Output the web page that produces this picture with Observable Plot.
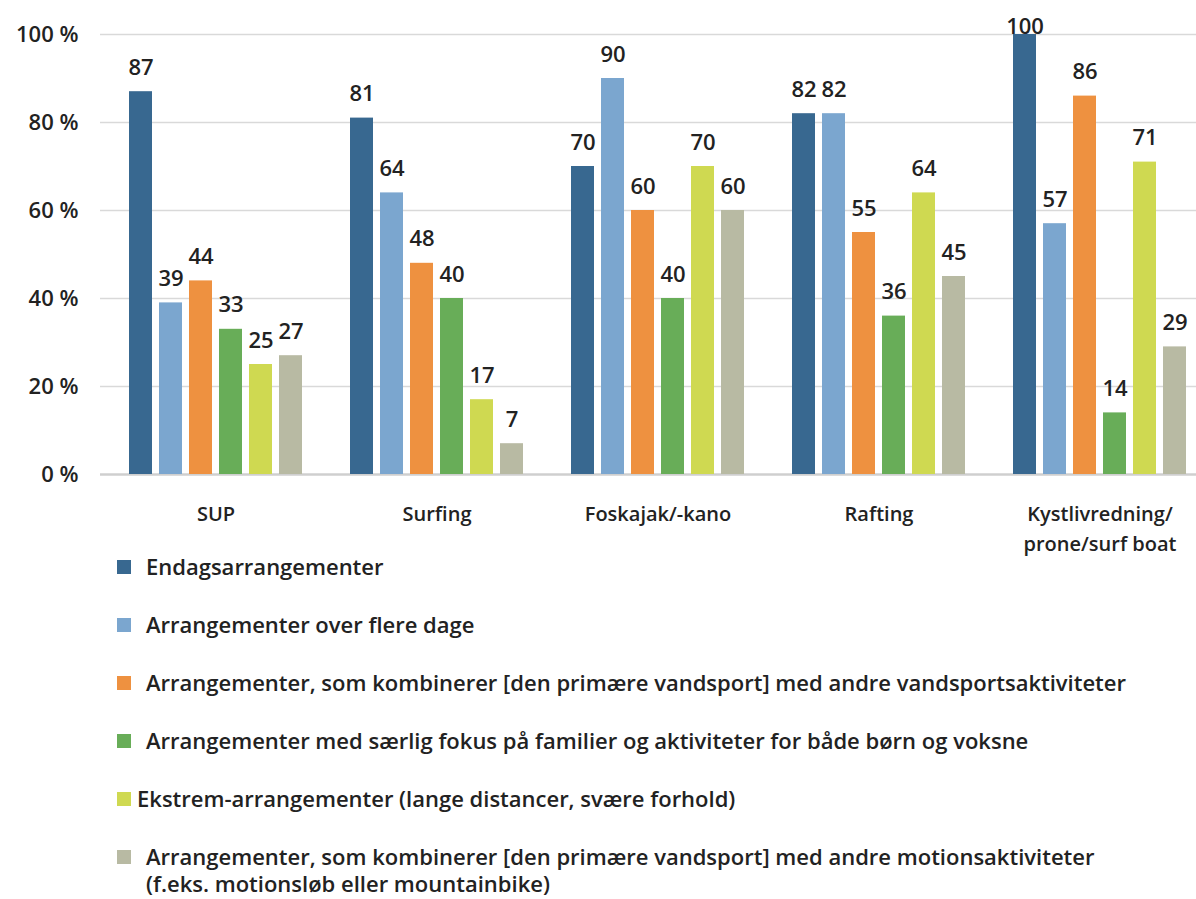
<!DOCTYPE html>
<html>
<head>
<meta charset="utf-8">
<script src="https://cdn.jsdelivr.net/npm/d3@7"></script>
<script src="https://cdn.jsdelivr.net/npm/@observablehq/plot@0.6"></script>
<style>
  html, body { margin: 0; padding: 0; background: #fff; overflow: hidden; }
  #wrap { position: relative; width: 1196px; height: 899px; font-family: "Open Sans", Lato, sans-serif; }
  #wrap svg { position: absolute; left: 0; top: 0; overflow: hidden; }
  #legend { position: absolute; left: 117px; top: 553px; width: 1079px; color: #222; font-size: 22px; font-weight: 600; }
  .item { display: flex; align-items: flex-start; line-height: 27px; margin-bottom: 31px; }
  .sw { width: 14px; height: 14px; margin-top: 7px; margin-right: 15px; flex: none; }
  .lab { white-space: pre; }
</style>
</head>
<body>
<div id="wrap"><div id="legend"></div></div>
<script>
const categories = ["SUP", "Surfing", "Foskajak/-kano", "Rafting", "Kystlivredning/\nprone/surf boat"];
const series = [
  "Endagsarrangementer",
  "Arrangementer over flere dage",
  "Arrangementer, som kombinerer [den primære vandsport] med andre vandsportsaktiviteter",
  "Arrangementer med særlig fokus på familier og aktiviteter for både børn og voksne",
  "Ekstrem-arrangementer (lange distancer, svære forhold)",
  "Arrangementer, som kombinerer [den primære vandsport] med andre motionsaktiviteter\n(f.eks. motionsløb eller mountainbike)"
];
const endagsarrangementer = [87, 81, 70, 82, 100];
const flereDage = [39, 64, 90, 82, 57];
const kombinererVandsport = [44, 48, 60, 55, 86];
const familier = [33, 40, 40, 36, 14];
const ekstrem = [25, 17, 70, 64, 71];
const kombinererMotion = [27, 7, 60, 45, 29];
const colors = ["#386890", "#7ba6cf", "#ee9140", "#68ad58", "#cfd951", "#b8baa3"];
const yTicks = [0, 20, 40, 60, 80, 100];

const valueLists = [endagsarrangementer, flereDage, kombinererVandsport, familier, ekstrem, kombinererMotion];
const data = [];
categories.forEach((c, ci) => series.forEach((s, si) => data.push({cat: c, series: s, value: valueLists[si][ci]})));

const W = 1196, H = 575, MT = 34, MB = 101;
const font = {fontFamily: "'Open Sans', Lato, sans-serif", fontSize: "22px", fontWeight: 600, color: "#222", background: "transparent"};

const back = Plot.plot({
  width: W, height: H, marginTop: MT, marginBottom: MB, marginLeft: 100, marginRight: 0,
  style: font,
  y: {domain: [0, 100], ticks: yTicks, tickFormat: d => d + " %", tickSize: 0, tickPadding: 22, label: null},
  marks: [
    Plot.ruleY(yTicks.filter(d => d > 0), {stroke: "#d9d9d9", strokeWidth: 1.5}),
    Plot.ruleY([0], {stroke: "#cfcfcf", strokeWidth: 2.5})
  ]
});

const nearTop = d => d.value >= 96;
const front = Plot.plot({
  width: W, height: H, marginTop: MT, marginBottom: MB, marginLeft: 100, marginRight: -19,
  style: font,
  fx: {domain: categories, paddingInner: 0.156, paddingOuter: 0.095, axis: null, label: null},
  x: {domain: series, padding: 0.233, axis: null},
  y: {domain: [0, 100], axis: null},
  color: {domain: series, range: colors},
  marks: [
    Plot.barY(data, {fx: "cat", x: "series", y: "value", fill: "series"}),
    Plot.text(data.filter(d => !nearTop(d)), {fx: "cat", x: "series", y: "value", text: d => String(d.value), lineAnchor: "bottom", dy: -17, fontSize: 22, fill: "#222"}),
    Plot.text(data.filter(nearTop), {fx: "cat", x: "series", y: "value", text: d => String(d.value), lineAnchor: "bottom", dy: -1, fontSize: 22, fill: "#222"}),
    Plot.text(categories, {fx: d => d, text: d => d, frameAnchor: "bottom", lineAnchor: "top", dy: 25, fontSize: 20, lineHeight: 1.5, fill: "#222"})
  ]
});

const wrap = document.getElementById("wrap");
wrap.insertBefore(front, wrap.firstChild);
wrap.insertBefore(back, wrap.firstChild);

const legend = d3.select("#legend");
series.forEach((s, i) => {
  const it = legend.append("div").attr("class", "item");
  it.append("div").attr("class", "sw").style("background", colors[i]).style("margin-right", i === 4 ? "6px" : null);
  it.append("div").attr("class", "lab").text(s);
});
</script>
</body>
</html>
